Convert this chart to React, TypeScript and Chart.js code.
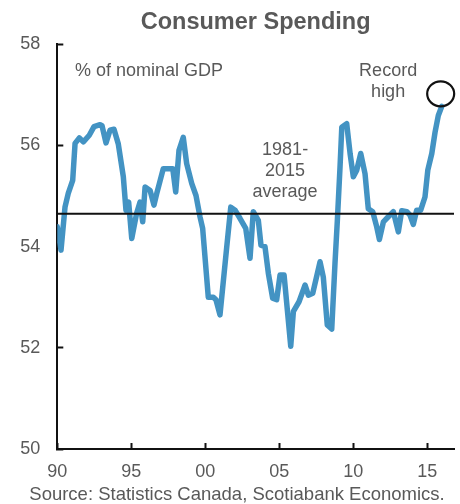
import React, { useEffect, useRef } from "react";
import { Chart, registerables } from "chart.js";

Chart.register(...registerables);

const TITLE = "Consumer Spending";
const SOURCE = "Source: Statistics Canada, Scotiabank Economics.";

// Year (decimal) of each reading
const dates = [
  1990.0, 1990.25, 1990.52, 1990.74, 1991.04, 1991.2, 1991.49, 1991.76, 1992.16, 1992.48,
  1992.89, 1993.02, 1993.29, 1993.56, 1993.83, 1994.12, 1994.46, 1994.64, 1994.82, 1995.03,
  1995.36, 1995.59, 1995.77, 1995.93, 1996.27, 1996.53, 1996.72, 1997.16, 1997.5, 1997.8,
  1998.0, 1998.22, 1998.51, 1998.74, 1999.08, 1999.37, 1999.64, 1999.82, 2000.2, 2000.54,
  2000.72, 2000.99, 2001.45, 2001.72, 2002.01, 2002.34, 2002.73, 2003.02, 2003.24, 2003.58,
  2003.76, 2004.03, 2004.26, 2004.55, 2004.82, 2005.05, 2005.32, 2005.54, 2005.77, 2005.95,
  2006.33, 2006.74, 2006.96, 2007.26, 2007.75, 2007.97, 2008.24, 2008.54, 2008.76, 2008.92,
  2009.1, 2009.22, 2009.55, 2009.78, 2010.0, 2010.23, 2010.5, 2010.79, 2011.01, 2011.31,
  2011.58, 2011.76, 2012.03, 2012.36, 2012.7, 2013.04, 2013.27, 2013.61, 2013.83, 2014.05,
  2014.28, 2014.55, 2014.84, 2015.03, 2015.3, 2015.52, 2015.74, 2015.97,
];

// Consumer spending, % of nominal GDP
const spending = [
  54.39, 53.93, 54.78, 55.05, 55.31, 56.04, 56.15, 56.07, 56.2, 56.37,
  56.41, 56.39, 56.05, 56.3, 56.32, 56.03, 55.38, 54.72, 54.88, 54.16,
  54.66, 54.88, 54.49, 55.18, 55.11, 54.82, 55.05, 55.54, 55.54, 55.54,
  55.08, 55.9, 56.16, 55.64, 55.25, 55.01, 54.59, 54.36, 53.0, 53.0,
  52.95, 52.65, 54.0, 54.78, 54.72, 54.56, 54.36, 53.77, 54.69, 54.52,
  54.03, 54.0, 53.47, 52.98, 52.95, 53.44, 53.44, 52.75, 52.03, 52.72,
  52.91, 53.24, 53.04, 53.08, 53.7, 53.4, 52.45, 52.37, 53.67, 54.52,
  55.57, 56.36, 56.43, 55.84, 55.38, 55.51, 55.84, 55.44, 54.75, 54.69,
  54.39, 54.14, 54.49, 54.59, 54.69, 54.29, 54.71, 54.69, 54.62, 54.44,
  54.72, 54.72, 54.98, 55.51, 55.84, 56.26, 56.59, 56.77,
];

// 1981-2015 average
const averageValue = 54.65;
const averageSpan = [1990, 2016.8];

const xTicks = [1990, 1995, 2000, 2005, 2010, 2015];
const yRange = [50, 58];
const yStep = 2;

const noteLabels = {
  gdp: ["% of nominal GDP"],
  record: ["Record", "high"],
  average: ["1981-", "2015", "average"],
};

const TEXT_GREY = "#595959";
const FONT_FAMILY = '"Liberation Sans", Arial, Helvetica, sans-serif';

const notesPlugin = {
  id: "notes",
  afterDatasetsDraw(chart: any) {
    const { ctx } = chart;
    const xs = chart.scales.x;
    const ys = chart.scales.y;
    const lineGap = 21;
    const drawNote = (lines: string[], xv: number, yv: number, align: CanvasTextAlign) => {
      ctx.textAlign = align;
      const px = xs.getPixelForValue(xv);
      const py = ys.getPixelForValue(yv);
      lines.forEach((t, i) => ctx.fillText(t, px, py + i * lineGap));
    };
    ctx.save();
    ctx.fillStyle = TEXT_GREY;
    ctx.font = `18px ${FONT_FAMILY}`;
    ctx.textBaseline = "middle";
    drawNote(noteLabels.gdp, 1991.2, 57.46, "left");
    drawNote(noteLabels.record, 2012.35, 57.46, "center");
    drawNote(noteLabels.average, 2005.39, 55.9, "center");
    // circle round the record high
    ctx.beginPath();
    ctx.strokeStyle = "#111";
    ctx.lineWidth = 2.2;
    ctx.ellipse(xs.getPixelForValue(2015.9), ys.getPixelForValue(57.02), 13.5, 12.5, 0, 0, Math.PI * 2);
    ctx.stroke();
    ctx.restore();
  },
};

export default function App() {
  const canvasRef = useRef<HTMLCanvasElement | null>(null);

  useEffect(() => {
    if (!canvasRef.current) return;
    const chart = new Chart(canvasRef.current, {
      type: "line",
      data: {
        datasets: [
          {
            label: "1981-2015 average",
            data: averageSpan.map((x) => ({ x, y: averageValue })),
            borderColor: "#111111",
            borderWidth: 2,
            pointRadius: 0,
          },
          {
            label: "Consumer spending",
            data: dates.map((x, i) => ({ x, y: spending[i] })),
            borderColor: "#4393C3",
            borderWidth: 5.5,
            pointRadius: 0,
            tension: 0,
            borderJoinStyle: "round",
            borderCapStyle: "round",
          },
        ],
      },
      options: {
        responsive: false,
        animation: false,
        devicePixelRatio: 1,
        layout: { padding: { top: 8, left: 20, right: 6, bottom: 0 } },
        plugins: {
          legend: { display: false },
          tooltip: { enabled: false },
          title: {
            display: true,
            text: TITLE,
            fullSize: false,
            color: TEXT_GREY,
            font: { family: FONT_FAMILY, size: 23.5, weight: "bold" },
            padding: { top: 0, bottom: 8 },
          },
          subtitle: {
            display: true,
            position: "bottom",
            text: SOURCE,
            color: TEXT_GREY,
            font: { family: FONT_FAMILY, size: 18.5, lineHeight: 1 },
            padding: { top: 3.9, bottom: 0 },
          },
        },
        scales: {
          x: {
            type: "linear",
            min: averageSpan[0],
            max: averageSpan[1],
            afterBuildTicks: (scale: any) => {
              scale.ticks = xTicks.map((value) => ({ value }));
            },
            afterFit: (scale: any) => {
              scale.height = 32.6;
            },
            ticks: {
              color: TEXT_GREY,
              font: { family: FONT_FAMILY, size: 18 },
              padding: 18.5,
              maxRotation: 0,
              autoSkip: false,
              callback: (v: any) => String(Number(v) % 100).padStart(2, "0"),
            },
            grid: {
              drawOnChartArea: false,
              drawTicks: true,
              tickLength: -6,
              tickColor: "#111",
              tickWidth: 2,
            },
            border: { display: true, color: "#111", width: 2 },
          },
          y: {
            min: yRange[0],
            max: yRange[1],
            afterFit: (scale: any) => {
              scale.width = 37.3;
            },
            ticks: {
              stepSize: yStep,
              color: TEXT_GREY,
              font: { family: FONT_FAMILY, size: 18 },
              padding: 23,
            },
            grid: {
              drawOnChartArea: false,
              drawTicks: true,
              tickLength: -6,
              tickColor: "#111",
              tickWidth: 2,
            },
            border: { display: true, color: "#111", width: 2 },
          },
        },
      },
      plugins: [notesPlugin],
    } as any);
    return () => chart.destroy();
  }, []);

  return (
    <div style={{ position: "fixed", left: 0, top: 0, width: 460, height: 504, background: "#fff" }}>
      <canvas ref={canvasRef} width={460} height={504} style={{ display: "block" }} />
    </div>
  );
}
